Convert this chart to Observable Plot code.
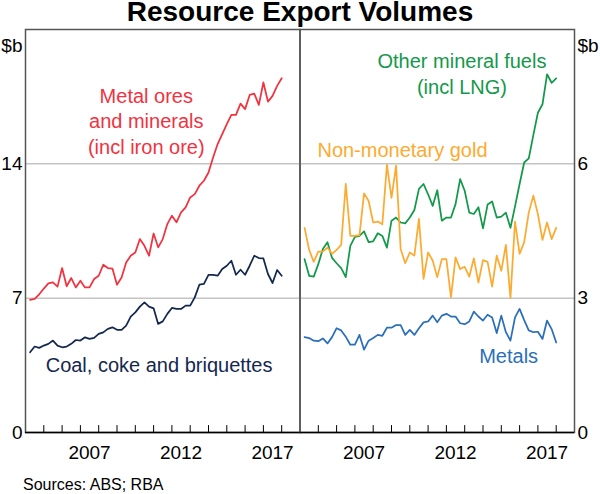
<!DOCTYPE html>
<html><head><meta charset="utf-8">
<script src="https://cdn.jsdelivr.net/npm/d3@7"></script>
<script src="https://cdn.jsdelivr.net/npm/@observablehq/plot@0.6"></script>
<style>
html,body{margin:0;padding:0;background:#fff;}
#chart{position:relative;width:600px;height:494px;font-family:"Liberation Sans",Arial,sans-serif;color:#000;overflow:hidden;background:#fff}
#title{position:absolute;left:0;width:600px;top:0;text-align:center;font-weight:bold;font-size:28px;line-height:24px}
#source{position:absolute;left:23px;top:477px;font-size:16px;line-height:16px}
.panel{position:absolute;top:0;left:0}
</style></head><body>
<div id="chart">
  <div id="title">Resource Export Volumes</div>
  <div id="left" class="panel"></div>
  <div id="right" class="panel"></div>
  <div id="source">Sources: ABS; RBA</div>
</div>
<script>
// Quarterly data, plotted at quarter end, Mar 2004 – Dec 2017
const firstQuarterEnd = 2004.25;
const quarterCount = 56;

// Left panel ($b)
const metalOres = [6.91,6.96,7.2,7.5,7.77,7.82,7.6,8.57,7.62,8.05,
  7.56,7.91,7.56,7.56,8.0,8.17,8.74,8.57,8.54,7.70,
  8.08,8.86,9.21,9.38,10.08,9.73,9.21,10.37,9.65,10.08,
  10.86,11.3,10.95,11.47,11.73,12.25,12.42,12.86,13.12,13.55,
  14.33,15.03,15.55,16.07,16.55,16.55,17.14,16.85,17.59,17.66,
  17.07,18.24,17.24,17.54,18.06,18.46];
const coal = [4.18,4.48,4.41,4.53,4.62,4.79,4.53,4.44,4.48,4.62,
  4.82,4.79,4.96,4.88,4.93,5.14,5.22,5.40,5.48,5.35,
  5.35,5.57,6.04,6.26,6.56,6.78,6.56,6.47,5.66,5.79,
  6.18,6.49,6.44,6.44,6.61,6.61,7.04,7.70,7.74,8.21,
  8.21,8.17,8.52,8.69,8.95,8.22,8.48,8.22,8.69,9.21,
  9.09,9.07,8.26,7.79,8.47,8.17];

// Right panel ($b)
const otherFuels = [3.87,3.50,3.48,3.76,4.10,4.25,3.90,3.78,3.67,3.47,
  4.17,4.37,4.39,4.49,4.25,4.27,4.45,4.39,4.13,4.73,
  4.80,4.69,4.67,4.80,4.97,5.44,5.55,5.32,5.06,5.41,
  4.73,4.80,4.80,5.10,5.66,5.40,4.91,4.88,5.03,4.56,
  5.09,5.16,4.80,4.82,4.91,4.57,5.05,5.55,6.03,6.12,
  6.64,7.14,7.33,8.0,7.81,7.91];
const gold = [4.57,4.08,3.81,4.04,4.04,4.13,3.99,4.08,4.19,5.55,
  4.39,4.39,4.41,5.34,5.17,4.69,4.71,4.65,5.98,5.24,
  5.96,4.10,3.78,4.02,3.95,4.77,3.43,4.02,3.84,3.47,
  3.87,3.87,3.02,3.91,3.65,3.70,3.48,3.89,3.35,3.85,
  3.81,3.26,3.95,3.61,4.19,3.00,4.71,3.99,4.25,4.91,
  5.29,4.88,4.30,4.69,4.32,4.57];
const metals = [2.13,2.11,2.05,2.04,2.10,1.99,2.13,2.33,2.28,2.14,
  1.96,1.96,2.18,1.85,2.05,2.11,2.18,2.16,2.34,2.34,
  2.40,2.40,2.18,2.29,2.18,2.33,2.46,2.48,2.61,2.46,
  2.61,2.65,2.59,2.59,2.44,2.42,2.48,2.70,2.59,2.50,
  2.63,2.57,2.22,2.61,2.24,2.05,2.57,2.76,2.51,2.28,
  2.24,2.25,2.09,2.50,2.31,2.01];

// Axes
const leftTicks = [0, 7, 14];
const rightTicks = [0, 3, 6];
const labelYears = [2007, 2012, 2017];
const yearTicks = [2005,2006,2007,2008,2009,2010,2011,2012,2013,2014,2015,2016,2017,2018];

const quarters = d3.range(quarterCount).map(i => firstQuarterEnd + i * 0.25);
const toRows = vals => vals.map((v, i) => ({t: quarters[i], v}));

const C = {red: "#f2323f", navy: "#14284f", green: "#13994a", orange: "#fcab30", blue: "#2b6fbb"};
const font = '"Liberation Sans", Arial, sans-serif';
const tickShape = {draw(ctx, l) { ctx.moveTo(0, 0); ctx.lineTo(0, -l); }};

function axesMarks(ticks, side) {
  return [
    Plot.frame({stroke: "#555", strokeWidth: 1.5}),
    Plot.ruleY([0], {stroke: "#000", strokeWidth: 1.5}),
    Plot.vector(yearTicks, {x: d => d, y: 0, length: 7, rotate: 0, anchor: "start", shape: tickShape, stroke: "#000", strokeWidth: 1}),
    Plot.axisY({ticks, anchor: side, tickSize: 0, tickPadding: 3, fontSize: 19, label: null}),
    Plot.axisX({ticks: labelYears.map(y => y + 0.5), tickFormat: d => String(Math.floor(d)), tickSize: 0, tickPadding: 13, fontSize: 19, label: null}),
    Plot.text(["$b"], {text: d => d, frameAnchor: side === "left" ? "top-left" : "top-right", dx: side === "left" ? -3 : 3, dy: 9, textAnchor: side === "left" ? "end" : "start", fontSize: 19})
  ];
}

const svgStyle = {background: "transparent", fontFamily: font, color: "#000", overflow: "visible"};

const left = Plot.plot({
  width: 600, height: 470,
  marginTop: 29, marginBottom: 38, marginLeft: 25, marginRight: 300.5,
  style: svgStyle,
  x: {domain: [2004, 2019]},
  y: {domain: [0, 21]},
  marks: [
    Plot.ruleY([7, 14], {stroke: "#a8a8a8", strokeWidth: 1}),
    Plot.line(toRows(coal), {x: "t", y: "v", stroke: C.navy, strokeWidth: 1.75}),
    Plot.line(toRows(metalOres), {x: "t", y: "v", stroke: C.red, strokeWidth: 1.75}),
    Plot.text(["Metal ores\nand minerals\n(incl iron ore)"], {text: d => d, x: 2010.6, y: 16.27, lineHeight: 1.275, fill: C.red, fontSize: 20, textAnchor: "middle"}),
    Plot.text(["Coal, coke and briquettes"], {text: d => d, x: 2011.3, y: 3.51, fill: C.navy, fontSize: 20, textAnchor: "middle"}),
    ...axesMarks(leftTicks, "left")
  ]
});

const right = Plot.plot({
  width: 600, height: 470,
  marginTop: 29, marginBottom: 38, marginLeft: 299.5, marginRight: 26,
  style: svgStyle,
  x: {domain: [2004, 2019]},
  y: {domain: [0, 9]},
  marks: [
    Plot.ruleY([3, 6], {stroke: "#a8a8a8", strokeWidth: 1}),
    Plot.line(toRows(metals), {x: "t", y: "v", stroke: C.blue, strokeWidth: 1.75}),
    Plot.line(toRows(otherFuels), {x: "t", y: "v", stroke: C.green, strokeWidth: 1.75}),
    Plot.line(toRows(gold), {x: "t", y: "v", stroke: C.orange, strokeWidth: 1.75}),
    Plot.text(["Other mineral fuels\n(incl LNG)"], {text: d => d, x: 2012.85, y: 8.04, lineHeight: 1.3, fill: C.green, fontSize: 20, textAnchor: "middle"}),
    Plot.text(["Non-monetary gold"], {text: d => d, x: 2009.6, y: 6.30, fill: C.orange, fontSize: 20, textAnchor: "middle"}),
    Plot.text(["Metals"], {text: d => d, x: 2015.4, y: 1.69, fill: C.blue, fontSize: 20, textAnchor: "middle"}),
    ...axesMarks(rightTicks, "right")
  ]
});

document.getElementById("left").appendChild(left);
document.getElementById("right").appendChild(right);
</script>
</body></html>
